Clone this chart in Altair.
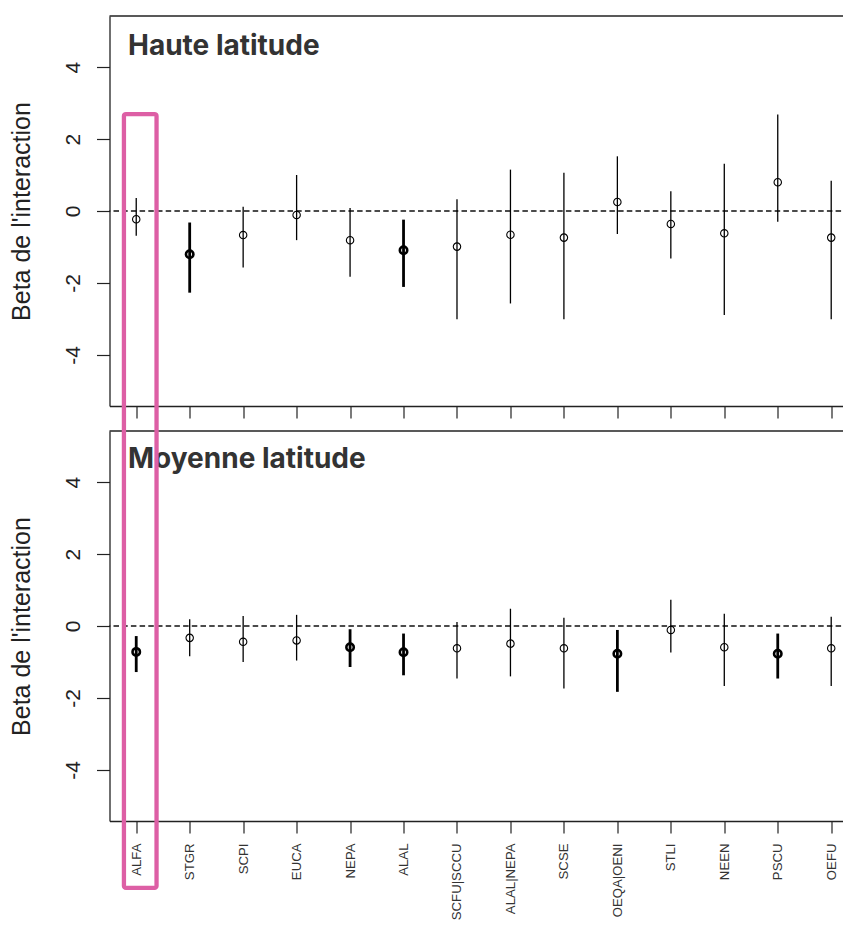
import json
import altair as alt
import pandas as pd

# ---------------- data ----------------
categories = ["ALFA", "STGR", "SCPI", "EUCA", "NEPA", "ALAL", "SCFU|SCCU",
              "ALAL|NEPA", "SCSE", "OEQA|OENI", "STLI", "NEEN", "PSCU", "OEFU"]

haute_beta = [-0.23, -1.20, -0.67, -0.11, -0.81, -1.09, -0.99, -0.66, -0.74, 0.25, -0.36, -0.62, 0.80, -0.74]
haute_low = [-0.69, -2.27, -1.57, -0.81, -1.83, -2.11, -3.01, -2.57, -3.01, -0.64, -1.32, -2.89, -0.30, -3.01]
haute_high = [0.36, -0.32, 0.12, 1.00, 0.08, -0.24, 0.33, 1.15, 1.06, 1.52, 0.55, 1.31, 2.68, 0.84]
haute_sig = [False, True, False, False, False, True, False, False, False, False, False, False, False, False]

moy_beta = [-0.72, -0.33, -0.44, -0.40, -0.59, -0.73, -0.62, -0.49, -0.62, -0.77, -0.11, -0.59, -0.77, -0.62]
moy_low = [-1.28, -0.84, -1.00, -0.96, -1.14, -1.37, -1.46, -1.40, -1.74, -1.83, -0.74, -1.67, -1.46, -1.67]
moy_high = [-0.28, 0.19, 0.28, 0.31, -0.09, -0.21, 0.11, 0.48, 0.23, -0.11, 0.73, 0.34, -0.21, 0.26]
moy_sig = [True, False, False, False, True, True, False, False, False, True, False, False, True, False]

panel_titles = ["Haute latitude", "Moyenne latitude"]
y_title = "Beta de l'interaction"
y_ticks = [-4, -2, 0, 2, 4]

# highlighted category (pink frame), in data units of the lower panel
highlight_x = [0.77, 1.38]
highlight_y = [14.23, -7.28]

# ---------------- layout / style ----------------
W = 749
H = 390
X_DOMAIN = [0.5, 0.5 + W / 53.46]
Y_DOMAIN = [-5.42, 5.42]
AXIS_FONT = "Liberation Sans"
INK = "#222222"

label_array = json.dumps(categories)


def x_enc(field, show_labels):
    return alt.X(
        field,
        type="quantitative",
        scale=alt.Scale(domain=X_DOMAIN, nice=False, zero=False),
        axis=alt.Axis(
            values=list(range(1, len(categories) + 1)),
            labels=show_labels,
            labelExpr=f"{label_array}[datum.value - 1]",
            labelAngle=270,
            labelAlign="right",
            labelBaseline="middle",
            labelPadding=10,
            labelFont=AXIS_FONT,
            labelFontSize=13.2,
            labelColor="#333333",
            labelOverlap=False,
            labelFlush=False,
            labelBound=False,
            tickSize=12,
            tickColor=INK,
            tickWidth=1.2,
            domainColor=INK,
            domainWidth=1.3,
            grid=False,
            title=None,
        ),
    )


def y_enc(field):
    return alt.Y(
        field,
        type="quantitative",
        scale=alt.Scale(domain=Y_DOMAIN, nice=False, zero=False),
        axis=alt.Axis(
            values=y_ticks,
            labelExpr="toString(datum.value)",
            labelAngle=270,
            labelAlign="center",
            labelBaseline="alphabetic",
            labelPadding=17,
            labelFont=AXIS_FONT,
            labelFontSize=21,
            labelColor=INK,
            labelFlush=False,
            labelOverlap=False,
            tickSize=13,
            tickColor=INK,
            tickWidth=1.2,
            domainColor=INK,
            domainWidth=1.3,
            grid=False,
            title=y_title,
            titleFont=AXIS_FONT,
            titleFontSize=25,
            titleFontWeight="normal",
            titleColor=INK,
            titleAngle=270,
            titleAlign="center",
            titleBaseline="middle",
            titleX=-88,
            titleY=H / 2,
        ),
    )


def panel(beta, low, high, sig, title, show_labels, title_y, highlight):
    df = pd.DataFrame({
        "pos": list(range(1, len(categories) + 1)),
        "categorie": categories,
        "beta": beta,
        "low": low,
        "high": high,
        "sig": sig,
    })
    one = pd.DataFrame({"zero": [0], "titre": [title]})

    base = alt.Chart(df)

    zero_line = alt.Chart(one).mark_rule(
        color="#111111", strokeWidth=1.4, strokeDash=[5.5, 3.2]
    ).encode(y=y_enc("zero"))

    top_border = alt.Chart(one).mark_rule(color=INK, strokeWidth=1.3).encode(
        x=alt.value(0), x2=alt.value(W), y=alt.value(0)
    )

    bars = base.mark_rule(color="black").encode(
        x=x_enc("pos", show_labels),
        y=y_enc("low"),
        y2="high:Q",
        strokeWidth=alt.condition("datum.sig", alt.value(2.8), alt.value(1.3)),
    )

    points = base.mark_point(shape="circle", filled=False, color="black", size=55, opacity=1).encode(
        x=x_enc("pos", show_labels),
        y=y_enc("beta"),
        strokeWidth=alt.condition("datum.sig", alt.value(2.6), alt.value(1.1)),
    )

    label = alt.Chart(one).mark_text(
        align="left", baseline="alphabetic", font="Inter", fontWeight=700,
        fontSize=28, color="#333333"
    ).encode(x=alt.value(18.5), y=alt.value(title_y), text="titre:N")

    layers = [zero_line, top_border, bars, points, label]

    if highlight:
        hl = pd.DataFrame({"x0": [highlight_x[0]], "x1": [highlight_x[1]],
                           "y0": [highlight_y[0]], "y1": [highlight_y[1]]})
        frame = alt.Chart(hl).mark_rect(
            fillOpacity=0, stroke="#dd5fa5", strokeWidth=4.3, cornerRadius=2, clip=False
        ).encode(
            x=x_enc("x0", show_labels), x2="x1:Q",
            y=y_enc("y0"), y2="y1:Q",
        )
        layers.append(frame)

    return alt.layer(*layers).properties(width=W, height=H)


top = panel(haute_beta, haute_low, haute_high, haute_sig, panel_titles[0], False, 39.3, False)
bottom = panel(moy_beta, moy_low, moy_high, moy_sig, panel_titles[1], True, 36.7, True)

# the plot runs past the right edge of the page, as in the reference; a
# negative right padding crops the drawing there instead of widening the page
chart = alt.vconcat(top, bottom, spacing=25, bounds="flush").properties(
    padding={"left": 1.5, "top": 7, "right": -17, "bottom": 0},
    background="white",
).configure_view(strokeWidth=0)

chart.save("out.html", embed_options={"renderer": "svg", "actions": False})
